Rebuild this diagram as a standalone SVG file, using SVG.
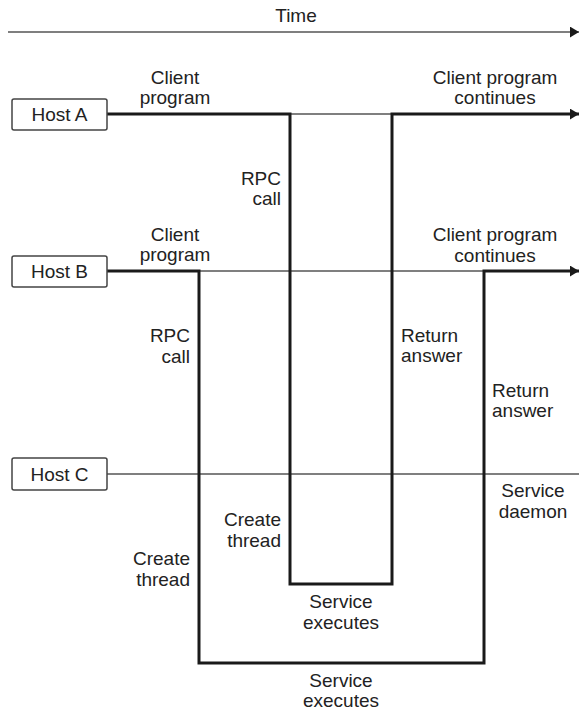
<svg xmlns="http://www.w3.org/2000/svg" width="579" height="713" viewBox="0 0 579 713">
<style>
text{font-family:"Liberation Sans",Arial,sans-serif;font-size:19px;fill:#222}
.m{text-anchor:middle}.r{text-anchor:end}
.box{fill:#fff;stroke:#444;stroke-width:1.5}
.thin{stroke:#555;stroke-width:1.3;fill:none}
.thick{stroke:#1a1a1a;stroke-width:3;fill:none}
</style>
<defs>
<marker id="ah" viewBox="0 0 10 12" refX="10" refY="6" markerWidth="9" markerHeight="11" markerUnits="userSpaceOnUse" orient="auto"><path d="M0,0L10,6L0,12z" fill="#1a1a1a"/></marker>
</defs>
<g id="time">
<text class="m" x="296" y="22">Time</text>
<line class="thin" x1="8" y1="32" x2="579" y2="32" marker-end="url(#ah)"/>
</g>
<g id="connectors">
<line class="thin" x1="290" y1="114" x2="392" y2="114"/>
<line class="thin" x1="199" y1="271" x2="484" y2="271"/>
<line class="thin" x1="107" y1="474" x2="579" y2="474"/>
<path class="thick" d="M107,114H290V584H392V114H579" marker-end="url(#ah)"/>
<path class="thick" d="M107,271H199V663H484V271H579" marker-end="url(#ah)"/>
</g>
<g id="hostA"><rect class="box" x="12" y="99" width="95" height="31" rx="2"/><text class="m" x="59.5" y="121">Host A</text></g>
<g id="hostB"><rect class="box" x="12" y="256" width="95" height="31" rx="2"/><text class="m" x="59.5" y="278">Host B</text></g>
<g id="hostC"><rect class="box" x="12" y="458" width="95" height="32" rx="2"/><text class="m" x="59.5" y="481">Host C</text></g>
<g id="labels">
<text class="m" x="175" y="84">Client</text><text class="m" x="175" y="104">program</text>
<text class="m" x="495" y="84">Client program</text><text class="m" x="495" y="104">continues</text>
<text class="r" x="281" y="185">RPC</text><text class="r" x="281" y="205">call</text>
<text class="m" x="175" y="241">Client</text><text class="m" x="175" y="261">program</text>
<text class="m" x="495" y="241">Client program</text><text class="m" x="495" y="262">continues</text>
<text class="r" x="190" y="342">RPC</text><text class="r" x="190" y="363">call</text>
<text x="401" y="342">Return</text><text x="401" y="362">answer</text>
<text x="492" y="397">Return</text><text x="492" y="417">answer</text>
<text class="m" x="533" y="497">Service</text><text class="m" x="533" y="518">daemon</text>
<text class="r" x="281" y="526">Create</text><text class="r" x="281" y="547">thread</text>
<text class="r" x="190" y="565">Create</text><text class="r" x="190" y="586">thread</text>
<text class="m" x="341" y="608">Service</text><text class="m" x="341" y="629">executes</text>
<text class="m" x="341" y="687">Service</text><text class="m" x="341" y="707">executes</text>
</g>
</svg>
